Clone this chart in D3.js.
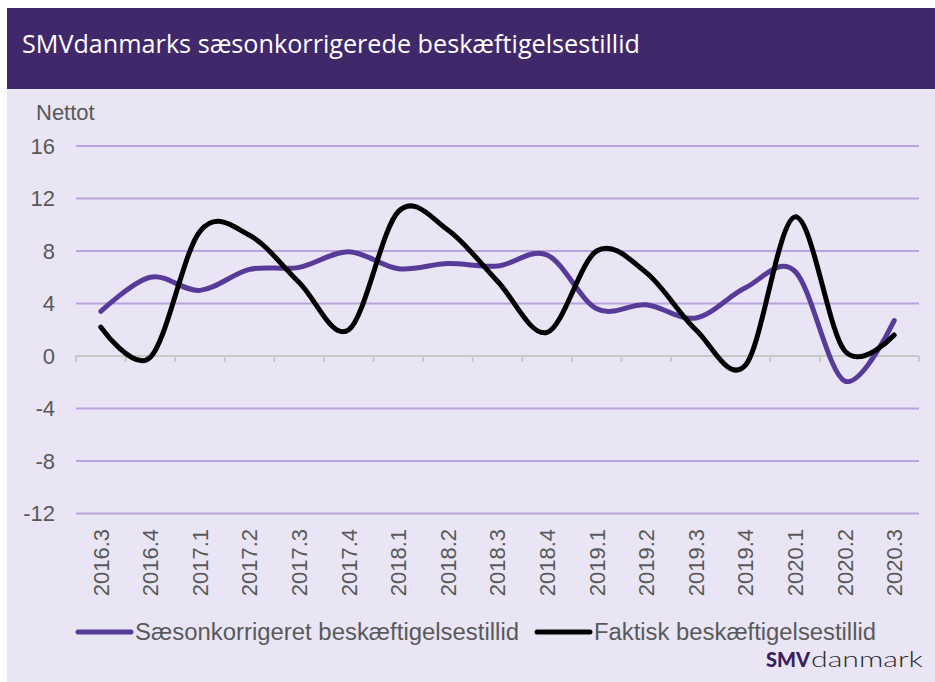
<!DOCTYPE html>
<html>
<head>
<meta charset="utf-8">
<script src="https://cdn.jsdelivr.net/npm/d3@7"></script>
<style>
  body { margin: 0; background: #fff; }
  text { font-family: "Liberation Sans", Arial, sans-serif; }
</style>
</head>
<body>
<svg width="935" height="682"></svg>
<script>
// quarters shown on the x axis
const quarters = ["2016.3","2016.4","2017.1","2017.2","2017.3","2017.4","2018.1","2018.2",
  "2018.3","2018.4","2019.1","2019.2","2019.3","2019.4","2020.1","2020.2","2020.3"];

const saesonkorrigeret = [3.4, 6.0, 5.0, 6.6, 6.75, 7.95, 6.65, 7.05, 6.85, 7.7, 3.6, 3.9, 2.9, 5.2, 6.45, -1.9, 2.7];
const faktisk = [2.2, -0.1, 9.5, 9.2, 5.6, 2.0, 11.0, 9.6, 5.7, 1.8, 8.0, 6.35, 2.0, -0.7, 10.6, 0.4, 1.6];

const yTicks = [-12, -8, -4, 0, 4, 8, 12, 16];
const seriesNames = ["Sæsonkorrigeret beskæftigelsestillid", "Faktisk beskæftigelsestillid"];

const svg = d3.select("svg");

// background + header band
svg.append("rect").attr("x", 7).attr("y", 8).attr("width", 928).attr("height", 674).attr("fill", "#e9e5f4");
svg.append("rect").attr("x", 7).attr("y", 8).attr("width", 928).attr("height", 81).attr("fill", "#41286b");
svg.append("text")
    .attr("x", 22).attr("y", 53)
    .attr("fill", "#fff")
    .style("font-family", "'Open Sans', sans-serif")
    .style("font-size", "25px")
    .attr("textLength", 618).attr("lengthAdjust", "spacingAndGlyphs")
    .text("SMVdanmarks sæsonkorrigerede beskæftigelsestillid");

const x = d3.scaleBand().domain(quarters).range([76, 919]).padding(0);
const y = d3.scaleLinear().domain([-12, 16]).range([513.5, 146]);

// gridlines
svg.append("g").selectAll("line")
  .data(yTicks.filter(d => d !== 0))
  .enter().append("line")
    .attr("x1", 76).attr("x2", 919)
    .attr("y1", d => y(d)).attr("y2", d => y(d))
    .attr("stroke", "#b9a3de").attr("stroke-width", 2);

// y axis labels
svg.append("g").selectAll("text")
  .data(yTicks)
  .enter().append("text")
    .attr("x", 55).attr("y", d => y(d))
    .attr("dy", "0.36em")
    .attr("text-anchor", "end")
    .attr("fill", "#595959")
    .style("font-size", "22px")
    .text(d => d);

svg.append("text")
    .attr("x", 36).attr("y", 120)
    .attr("fill", "#595959")
    .style("font-size", "22px")
    .text("Nettot");

// zero axis with ticks at band edges
svg.append("line")
    .attr("x1", 76).attr("x2", 919).attr("y1", y(0)).attr("y2", y(0))
    .attr("stroke", "#c8c8c8").attr("stroke-width", 2);
svg.append("g").selectAll("line")
  .data(quarters.map(q => x(q)).concat([x.range()[1]]))
  .enter().append("line")
    .attr("x1", d => d).attr("x2", d => d)
    .attr("y1", y(0)).attr("y2", y(0) + 6)
    .attr("stroke", "#c8c8c8").attr("stroke-width", 2);

// rotated category labels
svg.append("g").selectAll("text")
  .data(quarters)
  .enter().append("text")
    .attr("transform", d => `translate(${x(d) + x.bandwidth() / 2},529) rotate(-90)`)
    .attr("dy", "0.36em")
    .attr("text-anchor", "end")
    .attr("fill", "#595959")
    .style("font-size", "22px")
    .text(d => d);

// lines
const line = d3.line()
    .x((d, i) => x(quarters[i]) + x.bandwidth() / 2)
    .y(d => y(d))
    .curve(d3.curveCardinal.tension(0));

svg.append("path")
    .datum(saesonkorrigeret)
    .attr("d", line)
    .attr("fill", "none")
    .attr("stroke", "#583a98")
    .attr("stroke-width", 5)
    .attr("stroke-linecap", "round");

svg.append("path")
    .datum(faktisk)
    .attr("d", line)
    .attr("fill", "none")
    .attr("stroke", "#000")
    .attr("stroke-width", 5)
    .attr("stroke-linecap", "round");

// legend
const legend = [
  {name: seriesNames[0], color: "#583a98", x: 78, w: 384},
  {name: seriesNames[1], color: "#000", x: 537, w: 282}
];
const lg = svg.append("g").selectAll("g").data(legend).enter().append("g");
lg.append("line")
    .attr("x1", d => d.x).attr("x2", d => d.x + 53)
    .attr("y1", 632).attr("y2", 632)
    .attr("stroke", d => d.color).attr("stroke-width", 5)
    .attr("stroke-linecap", "round");
lg.append("text")
    .attr("x", d => d.x + 57).attr("y", 640)
    .attr("fill", "#595959")
    .style("font-size", "23px")
    .attr("textLength", d => d.w).attr("lengthAdjust", "spacingAndGlyphs")
    .text(d => d.name);

// logo
svg.append("text")
    .attr("x", 766).attr("y", 667)
    .attr("fill", "#3a1f5e")
    .style("font-family", "Lato, sans-serif")
    .style("font-weight", "900")
    .style("font-size", "21px")
    .attr("textLength", 44).attr("lengthAdjust", "spacingAndGlyphs")
    .text("SMV");
svg.append("text")
    .attr("x", 811).attr("y", 667)
    .attr("fill", "#2b2b2b")
    .style("font-family", "Lato, sans-serif")
    .style("font-weight", "300")
    .style("font-size", "21px")
    .attr("textLength", 112).attr("lengthAdjust", "spacingAndGlyphs")
    .text("danmark");
</script>
</body>
</html>
